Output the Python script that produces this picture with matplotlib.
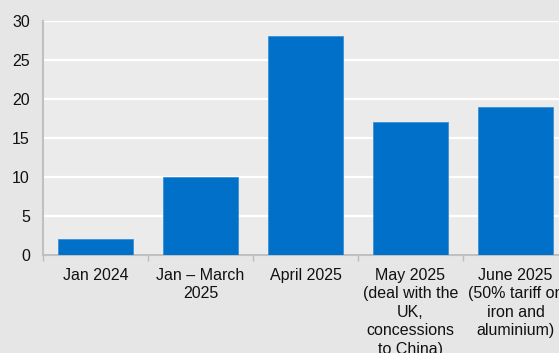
import numpy as np
import matplotlib.pyplot as plt

plt.rcParams['font.family'] = ['Liberation Sans', 'DejaVu Sans']

# Chart data
categories = ['Jan 2024', 'Jan \u2013 March\n2025', 'April 2025',
              'May 2025\n(deal with the\nUK,\nconcessions\nto China)',
              'June 2025\n(50% tariff on\niron and\naluminium)']
values = [2, 10, 28, 17, 19]
y_ticks = [0, 5, 10, 15, 20, 25, 30]

fig = plt.figure(figsize=(5.59, 3.53), dpi=100, facecolor='#e6e6e6')
# axes run past the right edge, as in the cropped original
ax = fig.add_axes([0.077, 0.2776, 0.939, 0.6637], facecolor='#ebebeb')

x = np.arange(len(categories))
ax.bar(x, values, width=0.71, color='#0070c8', edgecolor='#3d8fd6', linewidth=0.6, zorder=3)

ax.set_xlim(-0.5, len(categories) - 0.5)
ax.set_ylim(0, 30)
ax.set_yticks(y_ticks)
ax.yaxis.grid(True, color='white', linewidth=1.6, zorder=0)

ax.set_xticks(x)
ax.set_xticklabels(categories, fontsize=11.5, linespacing=1.3, va='top', color='#111111')
ax.set_xticks(np.arange(len(categories) + 1) - 0.5, minor=True)
ax.tick_params(axis='x', which='major', length=0, pad=9)
ax.tick_params(axis='x', which='minor', length=4, width=1, color='#bdbdbd')
ax.tick_params(axis='y', length=0, pad=9.5, labelsize=11.5, labelcolor='#111111')

for side in ['top', 'right']:
    ax.spines[side].set_visible(False)
for side in ['left', 'bottom']:
    ax.spines[side].set_color('#c0c0c0')
    ax.spines[side].set_linewidth(1.5)

fig.savefig('out.png', dpi=100, facecolor=fig.get_facecolor())
